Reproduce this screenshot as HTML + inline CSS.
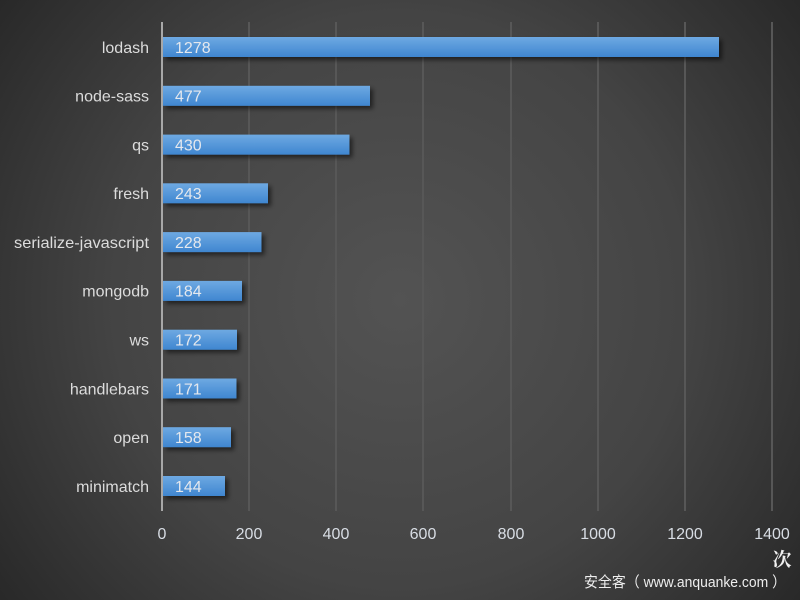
<!DOCTYPE html>
<html><head><meta charset="utf-8"><style>
html,body{margin:0;padding:0;width:800px;height:600px;overflow:hidden;background:#3a3a3a}
svg{display:block}
</style></head><body>
<svg width="800" height="600" viewBox="0 0 800 600" xmlns="http://www.w3.org/2000/svg" font-family="'Liberation Sans','Noto Sans CJK SC',sans-serif">
<defs>
<radialGradient id="bg" cx="400" cy="300" r="520" gradientUnits="userSpaceOnUse">
<stop offset="0" stop-color="#535353"/>
<stop offset="0.55" stop-color="#444444"/>
<stop offset="1" stop-color="#262626"/>
</radialGradient>
<linearGradient id="bar" x1="0" y1="0" x2="0" y2="1">
<stop offset="0" stop-color="#6ea9e2"/>
<stop offset="1" stop-color="#3f86d0"/>
</linearGradient>
<filter id="sh" x="-10%" y="-30%" width="130%" height="180%">
<feGaussianBlur in="SourceAlpha" stdDeviation="2.5"/>
<feOffset dx="3" dy="3" result="b"/>
<feComponentTransfer><feFuncA type="linear" slope="0.55"/></feComponentTransfer>
<feMerge><feMergeNode/><feMergeNode in="SourceGraphic"/></feMerge>
</filter>
</defs>
<rect width="800" height="600" fill="url(#bg)"/>
<g stroke="#575757" stroke-width="2">
<line x1="249" y1="22" x2="249" y2="511"/>
<line x1="336" y1="22" x2="336" y2="511"/>
<line x1="423" y1="22" x2="423" y2="511"/>
<line x1="511" y1="22" x2="511" y2="511"/>
<line x1="598" y1="22" x2="598" y2="511"/>
<line x1="685" y1="22" x2="685" y2="511"/>
<line x1="772" y1="22" x2="772" y2="511"/>
</g>
<g fill="url(#bar)" filter="url(#sh)">
<rect x="163" y="37" width="556" height="20"/>
<rect x="163" y="85.8" width="207" height="20"/>
<rect x="163" y="134.6" width="186.5" height="20"/>
<rect x="163" y="183.3" width="105" height="20"/>
<rect x="163" y="232.1" width="98.5" height="20"/>
<rect x="163" y="280.9" width="79" height="20"/>
<rect x="163" y="329.7" width="74" height="20"/>
<rect x="163" y="378.5" width="73.5" height="20"/>
<rect x="163" y="427.2" width="68" height="20"/>
<rect x="163" y="476" width="62" height="20"/>
</g>
<line x1="162" y1="22" x2="162" y2="511" stroke="#a8a8a8" stroke-width="2"/>
<g fill="#dcdcdc" font-size="16" text-anchor="end">
<text x="149" y="52.8">lodash</text>
<text x="149" y="101.6">node-sass</text>
<text x="149" y="150.4">qs</text>
<text x="149" y="199.1">fresh</text>
<text x="149" y="247.9" textLength="135" lengthAdjust="spacingAndGlyphs">serialize-javascript</text>
<text x="149" y="296.7">mongodb</text>
<text x="149" y="345.5">ws</text>
<text x="149" y="394.3">handlebars</text>
<text x="149" y="443">open</text>
<text x="149" y="491.8">minimatch</text>
</g>
<g fill="#e4e8ee" font-size="16">
<text x="175" y="52.8">1278</text>
<text x="175" y="101.6">477</text>
<text x="175" y="150.4">430</text>
<text x="175" y="199.1">243</text>
<text x="175" y="247.9">228</text>
<text x="175" y="296.7">184</text>
<text x="175" y="345.5">172</text>
<text x="175" y="394.3">171</text>
<text x="175" y="443">158</text>
<text x="175" y="491.8">144</text>
</g>
<g fill="#d8dde4" font-size="16" text-anchor="middle">
<text x="162" y="539">0</text>
<text x="249" y="539">200</text>
<text x="336" y="539">400</text>
<text x="423" y="539">600</text>
<text x="511" y="539">800</text>
<text x="598" y="539">1000</text>
<text x="685" y="539">1200</text>
<text x="772" y="539">1400</text>
</g>
<text x="782" y="566" fill="#f0f0f0" font-size="19" font-weight="bold" text-anchor="middle" font-family="'Liberation Serif','Noto Serif CJK SC',serif">次</text>
<text x="584" y="587" fill="#eeeeee" font-size="15" textLength="202" lengthAdjust="spacingAndGlyphs">安全客（ www.anquanke.com ）</text>
</svg>
</body></html>
